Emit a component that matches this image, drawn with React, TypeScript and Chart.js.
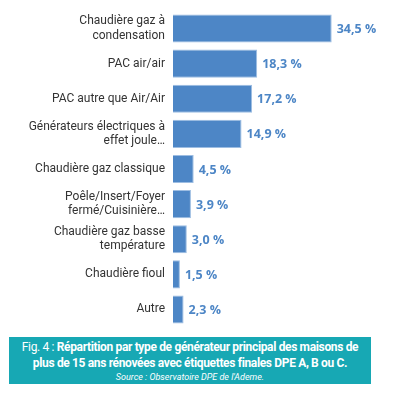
import React, { useEffect, useRef } from "react";
import { Chart, registerables } from "chart.js";

Chart.register(...registerables);

const categories: string[][] = [
  ["Chaudière gaz à", "condensation"],
  ["PAC air/air"],
  ["PAC autre que Air/Air"],
  ["Générateurs électriques à", "effet joule…"],
  ["Chaudière gaz classique"],
  ["Poêle/Insert/Foyer", "fermé/Cuisinière…"],
  ["Chaudière gaz basse", "température"],
  ["Chaudière fioul"],
  ["Autre"],
];
const values: number[] = [34.5, 18.3, 17.2, 14.9, 4.5, 3.9, 3.0, 1.5, 2.3];

const BAR = "#4d86c6";

const valueLabels = {
  id: "valueLabels",
  afterDatasetsDraw(chart: any) {
    const ctx = chart.ctx;
    const meta = chart.getDatasetMeta(0);
    ctx.save();
    ctx.fillStyle = BAR;
    ctx.font = "bold 12.5px 'Open Sans', sans-serif";
    ctx.textAlign = "left";
    ctx.textBaseline = "middle";
    meta.data.forEach((el: any, i: number) => {
      const txt = values[i].toFixed(1).replace(".", ",") + " %";
      ctx.fillText(txt, el.x + 5, el.y + 1);
    });
    ctx.restore();
  },
};

export default function App() {
  const ref = useRef<HTMLCanvasElement>(null);
  useEffect(() => {
    const chart = new Chart(ref.current!, {
      type: "bar",
      data: {
        labels: categories,
        datasets: [
          {
            data: values,
            backgroundColor: BAR,
            borderColor: "#9dbde2",
            borderWidth: 1,
            barPercentage: 0.8,
            categoryPercentage: 1,
          },
        ],
      },
      options: {
        indexAxis: "y",
        animation: false,
        responsive: false,
        maintainAspectRatio: false,
        layout: { padding: { top: 11, bottom: 3, left: 0, right: 40 } },
        plugins: { legend: { display: false }, tooltip: { enabled: false } },
        scales: {
          x: {
            type: "linear",
            min: 0,
            max: 40,
            display: true,
            ticks: { display: false },
            grid: { display: false, drawTicks: false },
            border: { display: false },
            afterFit: (s: any) => {
              s.height = 0;
              s.paddingLeft = 0;
              s.paddingRight = 0;
            },
          },
          y: {
            type: "category",
            grid: { display: false, drawTicks: false },
            border: { display: false },
            afterFit: (s: any) => {
              s.width = 173;
              s.paddingTop = 0;
              s.paddingBottom = 0;
            },
            ticks: {
              padding: 8,
              color: "#333333",
              font: { family: "Roboto", size: 12 },
            },
          },
        },
      },
      plugins: [valueLabels],
    });
    return () => chart.destroy();
  }, []);

  return (
    <div style={{ position: "absolute", left: 0, top: 0, width: 397, height: 400, background: "#fff" }}>
      <canvas ref={ref} width={397} height={330} style={{ display: "block", width: 397, height: 330 }} />
      <div
        style={{
          position: "absolute",
          left: 9,
          top: 337,
          width: 362,
          height: 47,
          background: "#17a8b4",
          color: "#fff",
          fontFamily: "Roboto, sans-serif",
          textAlign: "center",
          boxSizing: "border-box",
          paddingTop: 2,
        }}
      >
        <div style={{ fontSize: 12, lineHeight: "16px", letterSpacing: -0.35 }}>
          Fig. 4 : <b>Répartition par type de générateur principal des maisons de</b>
          <br />
          <b>plus de 15 ans rénovées avec étiquettes finales DPE A, B ou C.</b>
        </div>
        <div style={{ fontSize: 9, fontStyle: "italic", lineHeight: "12px", marginTop: 0 }}>
          Source : Observatoire DPE de l'Ademe.
        </div>
      </div>
    </div>
  );
}
